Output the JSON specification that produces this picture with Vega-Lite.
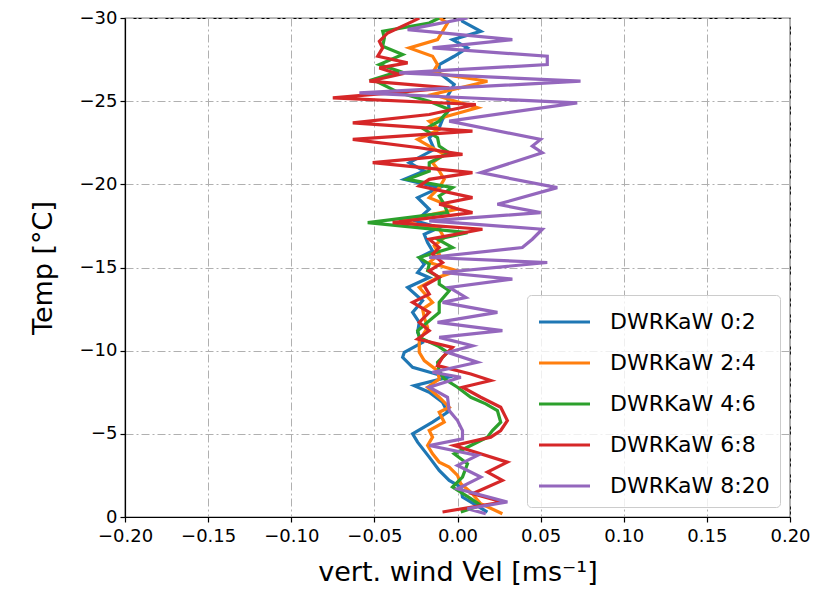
{
  "$schema": "https://vega.github.io/schema/vega-lite/v6.json",
  "width": 665,
  "height": 499,
  "autosize": "none",
  "padding": {"left": 125, "top": 18, "right": 38, "bottom": 77},
  "background": "white",
  "config": {
    "font": "DejaVu Sans",
    "view": {"stroke": "black", "strokeWidth": 1.2},
    "axis": {
      "domainColor": "black", "domainWidth": 1.2, "tickColor": "black", "tickWidth": 1.2, "tickSize": 5,
      "labelColor": "black", "titleColor": "black", "labelFontSize": 18, "titleFontSize": 27,
      "titleFontWeight": "normal", "labelFont": "DejaVu Sans", "titleFont": "DejaVu Sans",
      "gridColor": "#b0b0b0", "gridDash": [8, 3, 2, 3], "gridWidth": 1, "labelPadding": 3,
      "labelFlush": false, "labelOverlap": false
    },
    "legend": {
      "orient": "bottom-right", "offset": 10, "padding": 10, "cornerRadius": 4,
      "strokeColor": "#cccccc", "fillColor": "rgba(255,255,255,0.8)",
      "labelFontSize": 22, "labelFont": "DejaVu Sans", "labelColor": "black",
      "symbolType": "M-1,0H2.4", "symbolSize": 900, "symbolStrokeWidth": 3.2,
      "rowPadding": 13, "labelOffset": 39
    }
  },
  "layer": [
    {
      "data": {"values": [
        {"s":"0:2","t":-0.3,"w":0.018},{"s":"0:2","t":-1.2,"w":0.003},{"s":"0:2","t":-1.8,"w":0.002},{"s":"0:2","t":-2.2,"w":-0.005},{"s":"0:2","t":-2.8,"w":-0.011},{"s":"0:2","t":-3.6,"w":-0.017},{"s":"0:2","t":-4.5,"w":-0.024},{"s":"0:2","t":-5.0,"w":-0.027},{"s":"0:2","t":-5.7,"w":-0.015},{"s":"0:2","t":-6.3,"w":-0.006},{"s":"0:2","t":-6.9,"w":-0.009},{"s":"0:2","t":-7.5,"w":-0.017},{"s":"0:2","t":-7.9,"w":-0.026},{"s":"0:2","t":-8.4,"w":-0.006},{"s":"0:2","t":-9.0,"w":-0.027},{"s":"0:2","t":-9.6,"w":-0.033},{"s":"0:2","t":-9.9,"w":-0.032},{"s":"0:2","t":-10.5,"w":-0.021},{"s":"0:2","t":-11.1,"w":-0.024},{"s":"0:2","t":-11.7,"w":-0.023},{"s":"0:2","t":-12.3,"w":-0.027},{"s":"0:2","t":-13.0,"w":-0.021},{"s":"0:2","t":-13.8,"w":-0.030},{"s":"0:2","t":-14.4,"w":-0.017},{"s":"0:2","t":-14.7,"w":-0.024},{"s":"0:2","t":-15.2,"w":-0.020},{"s":"0:2","t":-15.6,"w":-0.023},{"s":"0:2","t":-16.0,"w":-0.015},{"s":"0:2","t":-16.5,"w":-0.018},{"s":"0:2","t":-17.0,"w":-0.020},{"s":"0:2","t":-17.4,"w":-0.011},{"s":"0:2","t":-17.8,"w":-0.025},{"s":"0:2","t":-18.5,"w":-0.017},{"s":"0:2","t":-19.2,"w":-0.024},{"s":"0:2","t":-19.8,"w":-0.011},{"s":"0:2","t":-20.3,"w":-0.032},{"s":"0:2","t":-20.8,"w":-0.020},{"s":"0:2","t":-21.3,"w":-0.029},{"s":"0:2","t":-22.1,"w":-0.014},{"s":"0:2","t":-22.8,"w":-0.017},{"s":"0:2","t":-23.4,"w":-0.011},{"s":"0:2","t":-23.9,"w":-0.009},{"s":"0:2","t":-24.5,"w":-0.005},{"s":"0:2","t":-25.3,"w":-0.006},{"s":"0:2","t":-26.0,"w":-0.002},{"s":"0:2","t":-26.7,"w":-0.011},{"s":"0:2","t":-27.2,"w":-0.011},{"s":"0:2","t":-27.7,"w":-0.002},{"s":"0:2","t":-28.2,"w":0.006},{"s":"0:2","t":-28.7,"w":-0.003},{"s":"0:2","t":-29.2,"w":0.014},{"s":"0:2","t":-29.8,"w":0.003},{"s":"0:2","t":-30.0,"w":0.002},
        {"s":"2:4","t":-0.2,"w":0.027},{"s":"2:4","t":-0.8,"w":0.014},{"s":"2:4","t":-1.5,"w":0.008},{"s":"2:4","t":-2.0,"w":0.002},{"s":"2:4","t":-2.5,"w":0.000},{"s":"2:4","t":-3.0,"w":-0.005},{"s":"2:4","t":-3.3,"w":-0.011},{"s":"2:4","t":-3.8,"w":-0.015},{"s":"2:4","t":-4.3,"w":-0.018},{"s":"2:4","t":-4.8,"w":-0.015},{"s":"2:4","t":-5.2,"w":-0.017},{"s":"2:4","t":-5.7,"w":-0.008},{"s":"2:4","t":-6.3,"w":-0.011},{"s":"2:4","t":-6.6,"w":-0.005},{"s":"2:4","t":-7.2,"w":-0.011},{"s":"2:4","t":-7.8,"w":-0.018},{"s":"2:4","t":-8.3,"w":-0.011},{"s":"2:4","t":-8.8,"w":-0.012},{"s":"2:4","t":-9.4,"w":-0.020},{"s":"2:4","t":-9.9,"w":-0.023},{"s":"2:4","t":-10.6,"w":-0.023},{"s":"2:4","t":-11.4,"w":-0.018},{"s":"2:4","t":-12.0,"w":-0.020},{"s":"2:4","t":-12.5,"w":-0.021},{"s":"2:4","t":-12.9,"w":-0.015},{"s":"2:4","t":-13.8,"w":-0.023},{"s":"2:4","t":-14.4,"w":-0.012},{"s":"2:4","t":-14.8,"w":0.000},{"s":"2:4","t":-15.3,"w":-0.017},{"s":"2:4","t":-15.8,"w":-0.011},{"s":"2:4","t":-16.3,"w":-0.014},{"s":"2:4","t":-16.8,"w":-0.008},{"s":"2:4","t":-17.3,"w":-0.011},{"s":"2:4","t":-17.8,"w":-0.035},{"s":"2:4","t":-18.5,"w":0.000},{"s":"2:4","t":-19.2,"w":-0.017},{"s":"2:4","t":-19.8,"w":-0.011},{"s":"2:4","t":-20.3,"w":-0.008},{"s":"2:4","t":-20.8,"w":-0.011},{"s":"2:4","t":-21.3,"w":-0.015},{"s":"2:4","t":-21.8,"w":-0.008},{"s":"2:4","t":-22.3,"w":-0.017},{"s":"2:4","t":-22.7,"w":-0.024},{"s":"2:4","t":-23.3,"w":-0.011},{"s":"2:4","t":-23.8,"w":-0.017},{"s":"2:4","t":-24.6,"w":0.012},{"s":"2:4","t":-25.4,"w":-0.015},{"s":"2:4","t":-26.2,"w":0.018},{"s":"2:4","t":-26.7,"w":-0.015},{"s":"2:4","t":-27.2,"w":-0.012},{"s":"2:4","t":-27.7,"w":-0.015},{"s":"2:4","t":-28.2,"w":-0.029},{"s":"2:4","t":-28.7,"w":-0.012},{"s":"2:4","t":-29.2,"w":-0.009},{"s":"2:4","t":-29.7,"w":-0.006},{"s":"2:4","t":-30.0,"w":-0.011},
        {"s":"4:6","t":-0.3,"w":0.002},{"s":"4:6","t":-0.7,"w":0.014},{"s":"4:6","t":-1.1,"w":0.008},{"s":"4:6","t":-1.8,"w":-0.003},{"s":"4:6","t":-2.4,"w":0.003},{"s":"4:6","t":-3.2,"w":0.006},{"s":"4:6","t":-3.8,"w":-0.002},{"s":"4:6","t":-4.3,"w":0.008},{"s":"4:6","t":-4.8,"w":0.018},{"s":"4:6","t":-5.2,"w":0.021},{"s":"4:6","t":-5.7,"w":0.026},{"s":"4:6","t":-6.4,"w":0.024},{"s":"4:6","t":-6.8,"w":0.017},{"s":"4:6","t":-7.2,"w":0.008},{"s":"4:6","t":-7.8,"w":0.000},{"s":"4:6","t":-8.3,"w":-0.008},{"s":"4:6","t":-8.8,"w":-0.011},{"s":"4:6","t":-9.3,"w":-0.012},{"s":"4:6","t":-9.9,"w":-0.006},{"s":"4:6","t":-10.3,"w":-0.012},{"s":"4:6","t":-10.8,"w":-0.023},{"s":"4:6","t":-11.2,"w":-0.024},{"s":"4:6","t":-11.8,"w":-0.017},{"s":"4:6","t":-12.3,"w":-0.011},{"s":"4:6","t":-12.9,"w":-0.011},{"s":"4:6","t":-13.6,"w":-0.005},{"s":"4:6","t":-14.0,"w":-0.011},{"s":"4:6","t":-14.4,"w":-0.011},{"s":"4:6","t":-14.8,"w":-0.018},{"s":"4:6","t":-15.2,"w":-0.017},{"s":"4:6","t":-15.6,"w":-0.023},{"s":"4:6","t":-16.2,"w":-0.003},{"s":"4:6","t":-16.7,"w":-0.012},{"s":"4:6","t":-17.1,"w":0.006},{"s":"4:6","t":-17.7,"w":-0.054},{"s":"4:6","t":-18.3,"w":-0.006},{"s":"4:6","t":-18.8,"w":-0.008},{"s":"4:6","t":-19.3,"w":-0.011},{"s":"4:6","t":-19.8,"w":-0.003},{"s":"4:6","t":-20.3,"w":-0.030},{"s":"4:6","t":-20.8,"w":-0.017},{"s":"4:6","t":-21.3,"w":-0.017},{"s":"4:6","t":-21.9,"w":-0.005},{"s":"4:6","t":-22.3,"w":-0.011},{"s":"4:6","t":-22.8,"w":-0.012},{"s":"4:6","t":-23.3,"w":-0.020},{"s":"4:6","t":-23.8,"w":-0.011},{"s":"4:6","t":-24.5,"w":-0.005},{"s":"4:6","t":-25.0,"w":-0.017},{"s":"4:6","t":-25.5,"w":-0.035},{"s":"4:6","t":-26.3,"w":-0.051},{"s":"4:6","t":-26.8,"w":-0.035},{"s":"4:6","t":-27.2,"w":-0.047},{"s":"4:6","t":-27.8,"w":-0.033},{"s":"4:6","t":-28.3,"w":-0.045},{"s":"4:6","t":-28.8,"w":-0.044},{"s":"4:6","t":-29.2,"w":-0.045},{"s":"4:6","t":-29.7,"w":-0.017},{"s":"4:6","t":-30.0,"w":-0.011},
        {"s":"6:8","t":-0.3,"w":-0.009},{"s":"6:8","t":-0.9,"w":0.027},{"s":"6:8","t":-1.4,"w":0.009},{"s":"6:8","t":-2.2,"w":0.027},{"s":"6:8","t":-2.7,"w":0.018},{"s":"6:8","t":-3.3,"w":0.030},{"s":"6:8","t":-4.3,"w":-0.002},{"s":"6:8","t":-4.8,"w":0.020},{"s":"6:8","t":-5.2,"w":0.026},{"s":"6:8","t":-5.8,"w":0.030},{"s":"6:8","t":-6.6,"w":0.026},{"s":"6:8","t":-7.2,"w":0.014},{"s":"6:8","t":-7.8,"w":0.003},{"s":"6:8","t":-8.2,"w":0.020},{"s":"6:8","t":-8.6,"w":0.008},{"s":"6:8","t":-9.1,"w":-0.012},{"s":"6:8","t":-9.6,"w":-0.009},{"s":"6:8","t":-10.2,"w":-0.003},{"s":"6:8","t":-10.7,"w":-0.024},{"s":"6:8","t":-11.2,"w":-0.017},{"s":"6:8","t":-11.7,"w":-0.023},{"s":"6:8","t":-12.3,"w":-0.017},{"s":"6:8","t":-12.9,"w":-0.027},{"s":"6:8","t":-13.4,"w":-0.017},{"s":"6:8","t":-13.9,"w":-0.020},{"s":"6:8","t":-14.4,"w":-0.011},{"s":"6:8","t":-14.8,"w":-0.017},{"s":"6:8","t":-15.3,"w":-0.009},{"s":"6:8","t":-15.8,"w":-0.015},{"s":"6:8","t":-16.2,"w":-0.011},{"s":"6:8","t":-16.7,"w":-0.017},{"s":"6:8","t":-17.3,"w":0.015},{"s":"6:8","t":-17.7,"w":-0.039},{"s":"6:8","t":-18.3,"w":0.009},{"s":"6:8","t":-18.8,"w":-0.011},{"s":"6:8","t":-19.2,"w":0.009},{"s":"6:8","t":-19.9,"w":-0.023},{"s":"6:8","t":-20.3,"w":-0.017},{"s":"6:8","t":-20.7,"w":0.009},{"s":"6:8","t":-21.3,"w":-0.051},{"s":"6:8","t":-21.8,"w":0.003},{"s":"6:8","t":-22.2,"w":-0.023},{"s":"6:8","t":-22.7,"w":-0.063},{"s":"6:8","t":-23.2,"w":0.009},{"s":"6:8","t":-23.7,"w":-0.063},{"s":"6:8","t":-24.2,"w":-0.017},{"s":"6:8","t":-24.8,"w":0.011},{"s":"6:8","t":-25.2,"w":-0.075},{"s":"6:8","t":-25.8,"w":-0.005},{"s":"6:8","t":-26.2,"w":-0.053},{"s":"6:8","t":-26.6,"w":-0.035},{"s":"6:8","t":-27.0,"w":-0.047},{"s":"6:8","t":-27.3,"w":-0.030},{"s":"6:8","t":-27.7,"w":-0.048},{"s":"6:8","t":-28.2,"w":-0.045},{"s":"6:8","t":-28.6,"w":-0.047},{"s":"6:8","t":-29.1,"w":-0.042},{"s":"6:8","t":-29.8,"w":-0.027},{"s":"6:8","t":-30.0,"w":-0.023},
        {"s":"8:20","t":-0.2,"w":0.017},{"s":"8:20","t":-0.5,"w":0.006},{"s":"8:20","t":-0.9,"w":0.030},{"s":"8:20","t":-1.7,"w":0.000},{"s":"8:20","t":-2.4,"w":0.014},{"s":"8:20","t":-3.1,"w":0.000},{"s":"8:20","t":-3.7,"w":0.012},{"s":"8:20","t":-4.3,"w":-0.017},{"s":"8:20","t":-4.7,"w":0.003},{"s":"8:20","t":-5.2,"w":0.003},{"s":"8:20","t":-5.8,"w":0.000},{"s":"8:20","t":-6.4,"w":-0.005},{"s":"8:20","t":-7.2,"w":-0.006},{"s":"8:20","t":-7.8,"w":-0.017},{"s":"8:20","t":-8.4,"w":0.002},{"s":"8:20","t":-8.7,"w":-0.015},{"s":"8:20","t":-9.3,"w":0.012},{"s":"8:20","t":-9.9,"w":-0.006},{"s":"8:20","t":-10.3,"w":0.009},{"s":"8:20","t":-10.8,"w":-0.011},{"s":"8:20","t":-11.2,"w":0.027},{"s":"8:20","t":-11.7,"w":-0.012},{"s":"8:20","t":-12.3,"w":0.024},{"s":"8:20","t":-12.9,"w":-0.009},{"s":"8:20","t":-13.2,"w":0.005},{"s":"8:20","t":-13.8,"w":-0.005},{"s":"8:20","t":-14.3,"w":0.033},{"s":"8:20","t":-14.7,"w":-0.009},{"s":"8:20","t":-15.3,"w":0.054},{"s":"8:20","t":-15.6,"w":-0.017},{"s":"8:20","t":-16.2,"w":0.039},{"s":"8:20","t":-16.7,"w":0.045},{"s":"8:20","t":-17.3,"w":0.051},{"s":"8:20","t":-17.8,"w":-0.017},{"s":"8:20","t":-18.3,"w":0.050},{"s":"8:20","t":-18.8,"w":0.024},{"s":"8:20","t":-19.8,"w":0.060},{"s":"8:20","t":-20.7,"w":0.014},{"s":"8:20","t":-21.9,"w":0.051},{"s":"8:20","t":-22.3,"w":0.045},{"s":"8:20","t":-22.7,"w":0.050},{"s":"8:20","t":-23.8,"w":-0.005},{"s":"8:20","t":-24.9,"w":0.072},{"s":"8:20","t":-25.5,"w":-0.059},{"s":"8:20","t":-26.2,"w":0.074},{"s":"8:20","t":-26.7,"w":-0.035},{"s":"8:20","t":-27.2,"w":0.054},{"s":"8:20","t":-27.7,"w":0.054},{"s":"8:20","t":-28.2,"w":-0.015},{"s":"8:20","t":-28.7,"w":0.033},{"s":"8:20","t":-29.3,"w":-0.030},{"s":"8:20","t":-30.0,"w":0.006}
      ]},
      "mark": {"type": "line", "strokeWidth": 3.2, "clip": true},
      "encoding": {
        "x": {"field": "w", "type": "quantitative",
          "scale": {"domain": [-0.2, 0.2], "nice": false, "zero": false},
          "axis": {"values": [-0.2, -0.15, -0.1, -0.05, 0, 0.05, 0.1, 0.15, 0.2], "format": ".2f", "title": "vert. wind Vel [ms⁻¹]", "labelPadding": 5, "titlePadding": 14, "grid": true}},
        "y": {"field": "t", "type": "quantitative",
          "scale": {"domain": [0, -30], "nice": false, "zero": false},
          "axis": {"values": [0, -5, -10, -15, -20, -25, -30], "format": "d", "title": "Temp [°C]", "titlePadding": 22, "grid": true}},
        "color": {"field": "s", "type": "nominal",
          "scale": {"domain": ["0:2", "2:4", "4:6", "6:8", "8:20"], "range": ["#1f77b4", "#ff7f0e", "#2ca02c", "#d62728", "#9467bd"]},
          "legend": {"title": null, "labelExpr": "'DWRKaW ' + datum.label"}},
        "order": {"field": "t", "type": "quantitative"}
      }
    },
    {
      "mark": {"type": "rule", "color": "#ff0000", "strokeDash": [7, 4], "strokeWidth": 2},
      "encoding": {"y": {"datum": -17}}
    }
  ]
}
